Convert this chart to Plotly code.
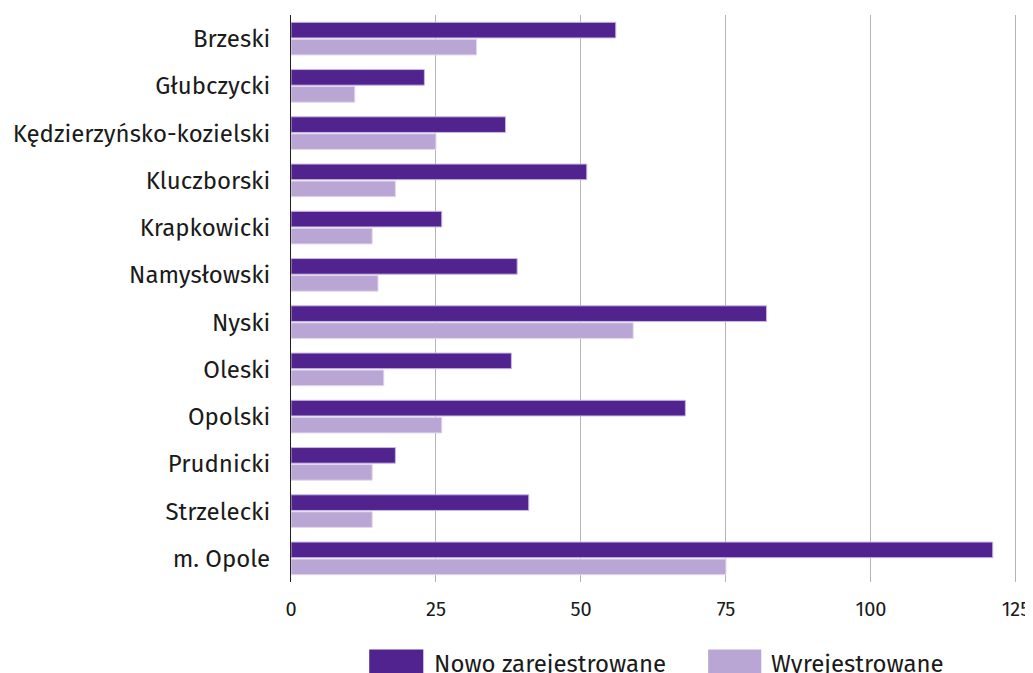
import plotly.graph_objects as go

categories = ["Brzeski", "Głubczycki", "Kędzierzyńsko-kozielski", "Kluczborski",
              "Krapkowicki", "Namysłowski", "Nyski", "Oleski", "Opolski",
              "Prudnicki", "Strzelecki", "m. Opole"]
nowo = [56, 23, 37, 51, 26, 39, 82, 38, 68, 18, 41, 121]
wyrej = [32, 11, 25, 18, 14, 15, 59, 16, 26, 14, 14, 75]
series_names = ["Nowo zarejestrowane", "Wyrejestrowane"]
colors = ["#51238F", "#B9A6D5"]
x_ticks = [0, 25, 50, 75, 100, 125]

FONT = "Fira Sans, Noto Sans, Open Sans, sans-serif"

fig = go.Figure()
for name, vals, col, edge in [(series_names[0], nowo, colors[0], "#C9B8E3"),
                              (series_names[1], wyrej, colors[1], "#E2D8EF")]:
    fig.add_trace(go.Bar(
        y=categories, x=vals, name=name, orientation="h",
        marker=dict(color=col, line=dict(color=edge, width=1)),
        showlegend=False,
    ))

fig.update_layout(
    width=1045, height=665,
    margin=dict(l=283, r=35, t=7, b=91),
    barmode="group", bargap=0.28, bargroupgap=0.08,
    plot_bgcolor="white", paper_bgcolor="white",
    font=dict(family=FONT, size=24, color="#1a1a1a"),
    xaxis=dict(range=[0, 125.35], tickvals=x_ticks, showgrid=True,
               gridcolor="#B5B5B5", gridwidth=1, zeroline=False,
               showline=False, ticklabelstandoff=13, automargin=False,
               ticklabeloverflow="allow",
               tickfont=dict(size=20)),
    yaxis=dict(autorange="reversed", showline=True, linecolor="#222222",
               linewidth=1, showgrid=False, ticklabelstandoff=15,
               automargin=False, tickfont=dict(size=24)),
)

# legend drawn manually
leg = [(0.1076, 0.182, 0.1945, series_names[0], colors[0]),
       (0.5738, 0.6469, 0.658, series_names[1], colors[1])]
for x0, x1, xt, name, col in leg:
    fig.add_shape(type="rect", xref="paper", yref="paper",
                  x0=x0, x1=x1, y0=-0.17, y1=-0.119,
                  fillcolor=col, line=dict(width=0))
    fig.add_annotation(xref="paper", yref="paper", x=xt, y=-0.145,
                       text=name, showarrow=False, xanchor="left",
                       yanchor="middle", font=dict(size=24, family=FONT))

fig.write_html("out.html")
